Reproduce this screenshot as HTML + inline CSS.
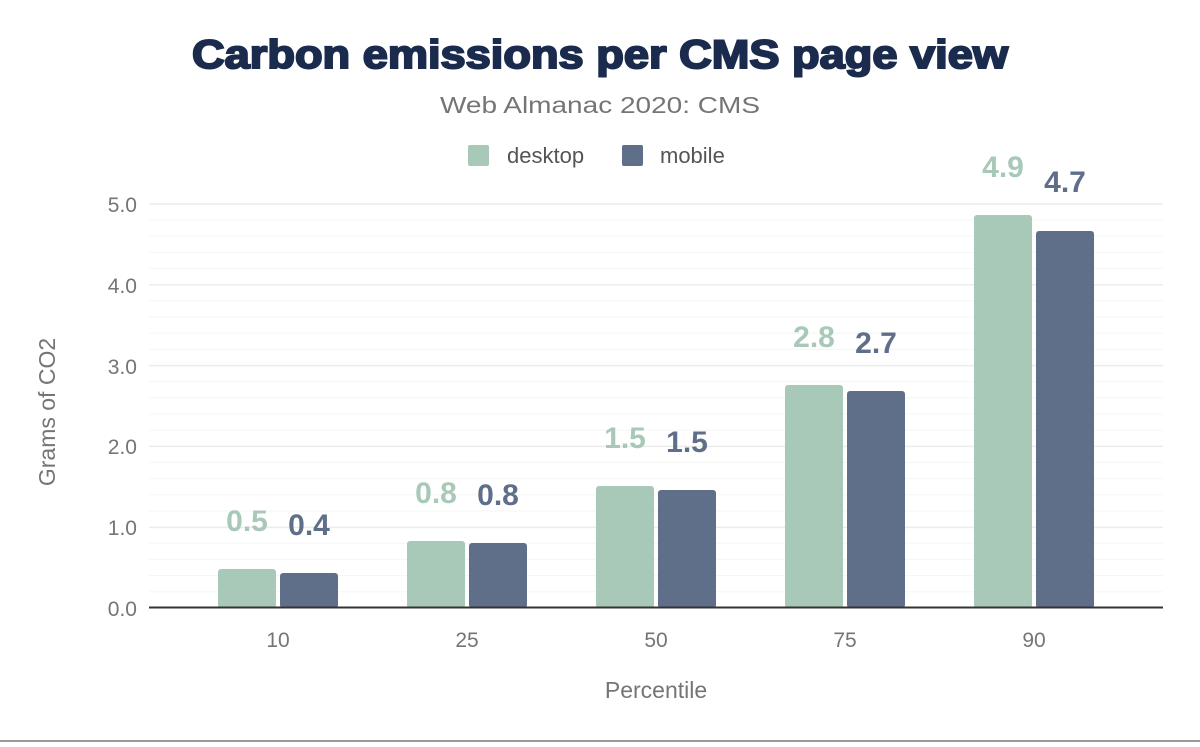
<!DOCTYPE html>
<html><head><style>
body{margin:0;background:#fff;}
svg text{font-family:"Liberation Sans",sans-serif;}
</style></head><body>
<svg width="1200" height="742" xmlns="http://www.w3.org/2000/svg">
<rect width="1200" height="742" fill="#fff"/>
<text x="600" y="68" text-anchor="middle" font-size="40" font-weight="900" fill="#1a2b4d" stroke="#1a2b4d" stroke-width="2" textLength="816" lengthAdjust="spacingAndGlyphs">Carbon emissions per CMS page view</text>
<text x="600" y="113" text-anchor="middle" font-size="23" fill="#757575" textLength="320" lengthAdjust="spacingAndGlyphs">Web Almanac 2020: CMS</text>
<rect x="468" y="145" width="21" height="21" rx="2" fill="#a8c9b8"/>
<text x="507" y="163" font-size="22" fill="#555">desktop</text>
<rect x="622" y="145" width="21" height="21" rx="2" fill="#5f6f8a"/>
<text x="660" y="163" font-size="22" fill="#555">mobile</text>
<g stroke="#f5f5f5" stroke-width="1">
<line x1="149" x2="1163" y1="591.8" y2="591.8"/><line x1="149" x2="1163" y1="575.6" y2="575.6"/><line x1="149" x2="1163" y1="559.4" y2="559.4"/><line x1="149" x2="1163" y1="543.2" y2="543.2"/>
<line x1="149" x2="1163" y1="511" y2="511"/><line x1="149" x2="1163" y1="494.8" y2="494.8"/><line x1="149" x2="1163" y1="478.6" y2="478.6"/><line x1="149" x2="1163" y1="462.4" y2="462.4"/>
<line x1="149" x2="1163" y1="430.2" y2="430.2"/><line x1="149" x2="1163" y1="414" y2="414"/><line x1="149" x2="1163" y1="397.8" y2="397.8"/><line x1="149" x2="1163" y1="381.6" y2="381.6"/>
<line x1="149" x2="1163" y1="349.4" y2="349.4"/><line x1="149" x2="1163" y1="333.2" y2="333.2"/><line x1="149" x2="1163" y1="317" y2="317"/><line x1="149" x2="1163" y1="300.8" y2="300.8"/>
<line x1="149" x2="1163" y1="268.6" y2="268.6"/><line x1="149" x2="1163" y1="252.4" y2="252.4"/><line x1="149" x2="1163" y1="236.2" y2="236.2"/><line x1="149" x2="1163" y1="220" y2="220"/>
</g>
<g stroke="#ececec" stroke-width="1.5">
<line x1="149" x2="1163" y1="527.4" y2="527.4"/><line x1="149" x2="1163" y1="446.4" y2="446.4"/><line x1="149" x2="1163" y1="365.6" y2="365.6"/><line x1="149" x2="1163" y1="284.8" y2="284.8"/><line x1="149" x2="1163" y1="204" y2="204"/>
</g>
<g font-size="21" fill="#757575" text-anchor="end">
<text x="137" y="616">0.0</text><text x="137" y="535">1.0</text><text x="137" y="454">2.0</text><text x="137" y="374">3.0</text><text x="137" y="293">4.0</text><text x="137" y="212">5.0</text>
</g>
<g fill="#a8c9b8">
<rect x="218" y="569" width="58" height="39" rx="3"/>
<rect x="407" y="541" width="58" height="67" rx="3"/>
<rect x="596" y="486" width="58" height="122" rx="3"/>
<rect x="785" y="385" width="58" height="223" rx="3"/>
<rect x="974" y="215" width="58" height="393" rx="3"/>
</g>
<g fill="#5f6f8a">
<rect x="280" y="573" width="58" height="35" rx="3"/>
<rect x="469" y="543" width="58" height="65" rx="3"/>
<rect x="658" y="490" width="58" height="118" rx="3"/>
<rect x="847" y="391" width="58" height="217" rx="3"/>
<rect x="1036" y="231" width="58" height="377" rx="3"/>
</g>
<line x1="149" x2="1163" y1="607.5" y2="607.5" stroke="#333" stroke-width="2"/>
<g font-size="30" font-weight="bold" text-anchor="middle" fill="#a8c9b8">
<text x="247" y="531">0.5</text><text x="436" y="503">0.8</text><text x="625" y="448">1.5</text><text x="814" y="347">2.8</text><text x="1003" y="177">4.9</text>
</g>
<g font-size="30" font-weight="bold" text-anchor="middle" fill="#5f6f8a">
<text x="309" y="535">0.4</text><text x="498" y="505">0.8</text><text x="687" y="452">1.5</text><text x="876" y="353">2.7</text><text x="1065" y="192">4.7</text>
</g>
<g font-size="21" fill="#757575" text-anchor="middle">
<text x="278" y="647">10</text><text x="467" y="647">25</text><text x="656" y="647">50</text><text x="845" y="647">75</text><text x="1034" y="647">90</text>
</g>
<text x="656" y="698" text-anchor="middle" font-size="23" fill="#757575">Percentile</text>
<text transform="translate(55,412) rotate(-90)" text-anchor="middle" font-size="23" fill="#757575">Grams of CO2</text>
<line x1="0" x2="1200" y1="741" y2="741" stroke="#999" stroke-width="2"/>
</svg>
</body></html>
